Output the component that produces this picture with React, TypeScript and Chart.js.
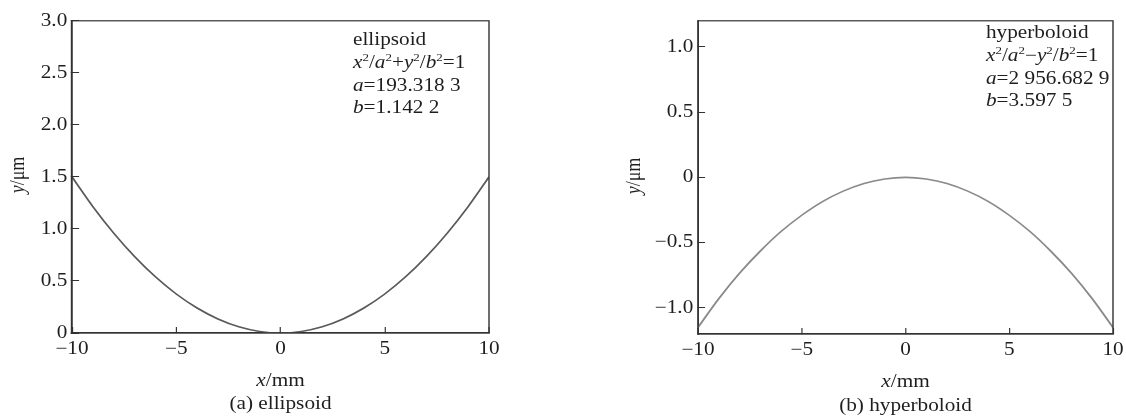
import React, { useEffect, useRef } from "react";
import { Chart, registerables } from "chart.js";

Chart.register(...registerables);

// ---------------- data ----------------
const xValues = [-10, -9, -8, -7, -6, -5, -4, -3, -2, -1, 0, 1, 2, 3, 4, 5, 6, 7, 8, 9, 10];
const ellipsoidY = [1.5, 1.215, 0.96, 0.735, 0.54, 0.375, 0.24, 0.135, 0.06, 0.015, 0, 0.015, 0.06, 0.135, 0.24, 0.375, 0.54, 0.735, 0.96, 1.215, 1.5];
const hyperboloidY = [-1.15, -0.93, -0.735, -0.565, -0.415, -0.29, -0.185, -0.105, -0.046, -0.012, 0, -0.012, -0.046, -0.105, -0.185, -0.29, -0.415, -0.565, -0.735, -0.93, -1.15];
const xTicks = [-10, -5, 0, 5, 10];
const ellipsoidYTicks = [0, 0.5, 1, 1.5, 2, 2.5, 3];
const hyperboloidYTicks = [-1, -0.5, 0, 0.5, 1];

type Seg = { t: string; i?: boolean; s?: boolean };

const ellipsoidNote: Seg[][] = [
  [{ t: "ellipsoid" }],
  [{ t: "x", i: true }, { t: "2", s: true }, { t: "/" }, { t: "a", i: true }, { t: "2", s: true }, { t: "+" }, { t: "y", i: true }, { t: "2", s: true }, { t: "/" }, { t: "b", i: true }, { t: "2", s: true }, { t: "=1" }],
  [{ t: "a", i: true }, { t: "=193.318 3" }],
  [{ t: "b", i: true }, { t: "=1.142 2" }],
];
const hyperboloidNote: Seg[][] = [
  [{ t: "hyperboloid" }],
  [{ t: "x", i: true }, { t: "2", s: true }, { t: "/" }, { t: "a", i: true }, { t: "2", s: true }, { t: "\u2212" }, { t: "y", i: true }, { t: "2", s: true }, { t: "/" }, { t: "b", i: true }, { t: "2", s: true }, { t: "=1" }],
  [{ t: "a", i: true }, { t: "=2 956.682 9" }],
  [{ t: "b", i: true }, { t: "=3.597 5" }],
];
const xTitle: Seg[] = [{ t: "x", i: true }, { t: "/mm" }];
const yTitle: Seg[] = [{ t: "y", i: true }, { t: "/\u03bcm" }];
const captionA: Seg[] = [{ t: "(a) ellipsoid" }];
const captionB: Seg[] = [{ t: "(b) hyperboloid" }];

// ---------------- style ----------------
const FAMILY = "'Liberation Serif', 'Times New Roman', serif";
const SX = 1.18; // horizontal stretch of the reference figure
const TEXT = "#1e1e1e";
const AXIS = "#333333";
const W = 563;
const H = 418;

function drawRich(ctx: CanvasRenderingContext2D, segs: Seg[], x: number, y: number, size: number, align: "left" | "center") {
  const font = (g: Seg) => `${g.i ? "italic " : ""}${g.s ? Math.round(size * 0.6) : size}px ${FAMILY}`;
  let total = 0;
  const ws = segs.map((g) => {
    ctx.font = font(g);
    const w = ctx.measureText(g.t).width;
    total += w;
    return w;
  });
  let cx = align === "center" ? x - total / 2 : x;
  ctx.textAlign = "left";
  ctx.textBaseline = "alphabetic";
  segs.forEach((g, k) => {
    ctx.font = font(g);
    ctx.fillText(g.t, cx, g.s ? y - size * 0.4 : y);
    cx += ws[k];
  });
}

const fmtX = (v: number) => (v < 0 ? "\u2212" : "") + Math.abs(v).toString();
const fmtY = (v: number) => (v === 0 ? "0" : (v < 0 ? "\u2212" : "") + Math.abs(v).toFixed(1));

type Spec = {
  left: number;
  plotLeft: number;
  plotRight: number;
  plotTop: number;
  plotBottom: number;
  yMin: number;
  yMax: number;
  yTicks: number[];
  ys: number[];
  color: string;
  note: Seg[][];
  noteX: number;
  noteBaselines: number[];
  yTitleX: number;
  yTitleY: number;
  caption: Seg[];
  xTitleBaseline: number;
  captionBaseline: number;
};

function Panel({ spec }: { spec: Spec }) {
  const ref = useRef<HTMLCanvasElement>(null);
  useEffect(() => {
    const vLeft = spec.plotLeft / SX;
    const vRight = spec.plotRight / SX;
    const stretch = {
      id: "stretchAndText",
      beforeDraw(chart: any) {
        const ctx = chart.ctx as CanvasRenderingContext2D;
        ctx.save();
        ctx.fillStyle = "#ffffff";
        ctx.fillRect(0, 0, W, H);
        ctx.scale(SX, 1);
      },
      afterDraw(chart: any) {
        const ctx = chart.ctx as CanvasRenderingContext2D;
        const a = chart.chartArea;
        ctx.strokeStyle = AXIS;
        ctx.lineWidth = 1.2;
        ctx.strokeRect(a.left, a.top, a.right - a.left, a.bottom - a.top);
        ctx.fillStyle = TEXT;
        spec.note.forEach((line, k) => drawRich(ctx, line, spec.noteX / SX, spec.noteBaselines[k], 18, "left"));
        const cx = (a.left + a.right) / 2;
        drawRich(ctx, xTitle, cx, spec.xTitleBaseline, 18, "center");
        drawRich(ctx, spec.caption, cx, spec.captionBaseline, 18, "center");
        ctx.save();
        ctx.translate(spec.yTitleX / SX, spec.yTitleY);
        ctx.rotate(-Math.PI / 2);
        drawRich(ctx, yTitle, 0, 0, 18, "center");
        ctx.restore();
        ctx.restore();
      },
    };
    const chart = new Chart(ref.current as HTMLCanvasElement, {
      type: "line",
      data: {
        datasets: [
          {
            data: xValues.map((x, i) => ({ x, y: spec.ys[i] })),
            borderColor: spec.color,
            borderWidth: 1.6,
            pointRadius: 0,
            cubicInterpolationMode: "monotone",
            fill: false,
          },
        ],
      },
      options: {
        responsive: false,
        animation: false,
        devicePixelRatio: 1,
        layout: { padding: { left: 0, top: spec.plotTop, right: W - vRight, bottom: 0 } },
        plugins: { legend: { display: false }, tooltip: { enabled: false }, title: { display: false } },
        scales: {
          x: {
            type: "linear",
            position: "bottom",
            min: -10,
            max: 10,
            afterBuildTicks: (s: any) => {
              s.ticks = xTicks.map((v) => ({ value: v }));
            },
            afterFit: (s: any) => {
              s.height = H - spec.plotBottom;
            },
            ticks: {
              callback: (v: any) => fmtX(Number(v)),
              font: { family: FAMILY, size: 18 },
              color: TEXT,
              padding: 11,
              maxRotation: 0,
              autoSkip: false,
            },
            grid: { drawOnChartArea: false, drawTicks: true, tickLength: -6, color: AXIS, lineWidth: 1 },
            border: { display: true, color: AXIS, width: 1.2 },
          },
          y: {
            type: "linear",
            position: "left",
            min: spec.yMin,
            max: spec.yMax,
            afterBuildTicks: (s: any) => {
              s.ticks = spec.yTicks.map((v) => ({ value: v }));
            },
            afterFit: (s: any) => {
              s.width = vLeft;
            },
            ticks: {
              callback: (v: any) => fmtY(Number(v)),
              font: { family: FAMILY, size: 18 },
              color: TEXT,
              padding: 10,
              autoSkip: false,
            },
            grid: { drawOnChartArea: false, drawTicks: true, tickLength: -6, color: AXIS, lineWidth: 1 },
            border: { display: true, color: AXIS, width: 1.2 },
          },
        },
      },
      plugins: [stretch],
    } as any);
    return () => chart.destroy();
  }, []);
  return (
    <canvas
      ref={ref}
      width={W}
      height={H}
      style={{ position: "absolute", left: spec.left, top: 0, width: W, height: H }}
    />
  );
}

const leftSpec: Spec = {
  left: 0,
  plotLeft: 72,
  plotRight: 489,
  plotTop: 17,
  plotBottom: 333,
  yMin: 0,
  yMax: 3,
  yTicks: ellipsoidYTicks,
  ys: ellipsoidY,
  color: "#5a5a5a",
  note: ellipsoidNote,
  noteX: 353,
  noteBaselines: [45, 68, 91, 113],
  yTitleX: 24,
  yTitleY: 175,
  caption: captionA,
  xTitleBaseline: 386,
  captionBaseline: 409,
};

const rightSpec: Spec = {
  left: 563,
  plotLeft: 135,
  plotRight: 550,
  plotTop: 18,
  plotBottom: 334,
  yMin: -1.2,
  yMax: 1.2,
  yTicks: hyperboloidYTicks,
  ys: hyperboloidY,
  color: "#8a8a8a",
  note: hyperboloidNote,
  noteX: 423,
  noteBaselines: [38, 61, 84, 106],
  yTitleX: 77,
  yTitleY: 176,
  caption: captionB,
  xTitleBaseline: 387,
  captionBaseline: 411,
};

export default function App() {
  return (
    <div style={{ position: "absolute", left: 0, top: 0, width: 1126, height: 418, background: "#fff" }}>
      <Panel spec={leftSpec} />
      <Panel spec={rightSpec} />
    </div>
  );
}
